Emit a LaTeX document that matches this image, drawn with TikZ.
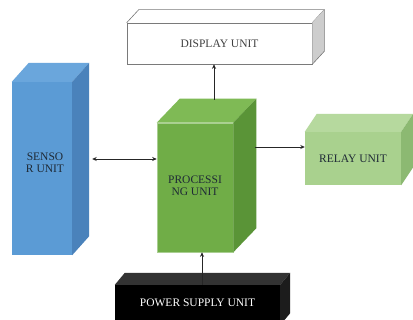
\documentclass[tikz,border=0pt]{standalone}
\usepackage{fontspec}
\setmainfont{Liberation Serif}
\usetikzlibrary{arrows.meta,calc}
\definecolor{sfront}{HTML}{5B9BD5}
\definecolor{stop}{HTML}{6AA6DC}
\definecolor{sside}{HTML}{4A82BB}
\definecolor{pfront}{HTML}{70AD47}
\definecolor{ptop}{HTML}{7FBA55}
\definecolor{pside}{HTML}{5A9437}
\definecolor{rfront}{HTML}{A9D18E}
\definecolor{rtop}{HTML}{B6D99E}
\definecolor{rside}{HTML}{8CB972}
\definecolor{dside}{HTML}{CDCDCD}
\definecolor{dline}{HTML}{7A7A7A}
\definecolor{wtop}{HTML}{333333}
\definecolor{wside}{HTML}{1C1C1C}
\definecolor{txt}{HTML}{1F2A36}
\tikzset{
  face/.style={inner sep=0pt, align=center, font=\fontsize{11.5}{12.5}\selectfont, text=txt},
  conn/.style={line width=0.9pt, draw=black!85},
  tip/.style={-{Stealth[length=4.5pt,width=4pt]}}
}
\newcommand{\boxthreed}[5]{% node, dx, dy, topcolor, sidecolor
  \fill[#4] (#1.north west) -- ++(#2,#3) -- ($(#1.north east)+(#2,#3)$) -- (#1.north east) -- cycle;
  \fill[#5] (#1.north east) -- ++(#2,#3) -- ($(#1.south east)+(#2,#3)$) -- (#1.south east) -- cycle;
}
\begin{document}
\begin{tikzpicture}[x=1pt,y=-1pt]
\clip (0,0) rectangle (413,320);
\fill[white] (0,0) rectangle (413,320);
% sensor
\node[face, fill=sfront, minimum width=60pt, minimum height=173pt] (s) at (42,168.5) {};
\boxthreed{s}{17}{-19}{stop}{sside}
\node[face] (st) at (45,163) {SENSO\\R UNIT};
% display
\node[face, fill=white, draw=dline, line width=0.6pt, minimum width=185pt, minimum height=41pt, text=black!75] (d) at (219.5,43.5) {DISPLAY UNIT};
\fill[white] (d.north west) -- ++(12,-13) -- ($(d.north east)+(12,-13)$) -- (d.north east) -- cycle;
\draw[dline, line width=0.6pt] (d.north west) -- ++(12,-13) -- ($(d.north east)+(12,-13)$) -- (d.north east);
\fill[dside] (d.north east) -- ++(12,-13) -- ($(d.south east)+(12,-13)$) -- (d.south east) -- cycle;
\draw[dline, line width=0.6pt] ($(d.north east)+(12,-13)$) -- ($(d.south east)+(12,-13)$) -- (d.south east);
% processing
\node[face, fill=pfront, draw=pfront!60!white, line width=0.6pt, minimum width=76pt, minimum height=129pt] (p) at (195,187.5) {};
\boxthreed{p}{23}{-24}{ptop}{pside}
\node[face] (pt) at (195,186) {PROCESSI\\NG UNIT};
% relay
\node[face, fill=rfront, minimum width=96pt, minimum height=53pt] (r) at (353,158.5) {RELAY UNIT};
\boxthreed{r}{12}{-18}{rtop}{rside}
% power
\node[face, fill=black, minimum width=165pt, minimum height=40pt, text=white] (w) at (197.5,305) {};
\boxthreed{w}{10}{-12}{wtop}{wside}
\node[face, text=white] (wt) at (197.5,302.5) {POWER SUPPLY UNIT};
% connectors
\coordinate (a1) at ([xshift=20pt,yshift=9.5pt]s.east);
\draw[conn, {Stealth[length=4.5pt,width=4pt]}-{Stealth[length=4.5pt,width=4pt]}] (a1) -- (p.west |- a1);
\coordinate (a2) at ([xshift=22pt,yshift=40.5pt]p.east);
\draw[conn, tip] (a2) -- (r.west |- a2);
\coordinate (a3) at ([xshift=19pt,yshift=23pt]p.north);
\draw[conn, tip] (a3) -- (d.south -| a3);
\coordinate (a4) at ([xshift=4.5pt]w.north);
\draw[conn, tip] (a4) -- (p.south -| a4);
\end{tikzpicture}
\end{document}
